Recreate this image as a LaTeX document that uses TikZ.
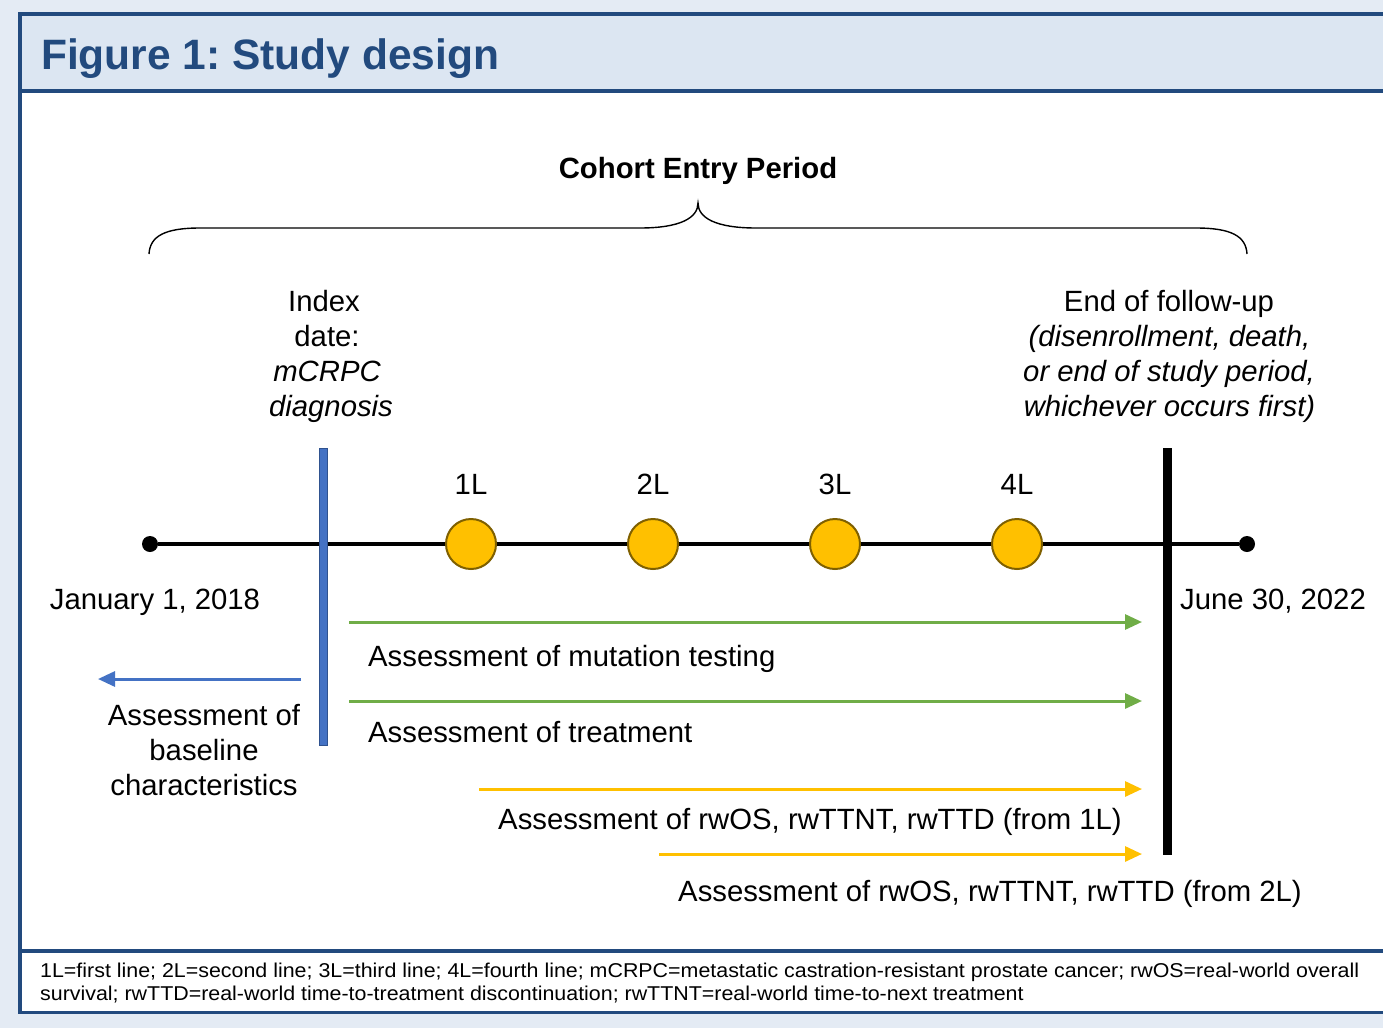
\documentclass[tikz,border=0pt]{standalone}
\usepackage{fontspec}
\setmainfont{Liberation Sans}
\newfontfamily\notefont[FakeStretch=1.07]{Liberation Sans}
\usetikzlibrary{arrows.meta}
\definecolor{pagebg}{HTML}{E4EBF4}
\definecolor{headbg}{HTML}{DCE6F2}
\definecolor{navy}{HTML}{224A7E}
\definecolor{barblue}{HTML}{4472C4}
\definecolor{bardark}{HTML}{2F528F}
\definecolor{gold}{HTML}{FFC000}
\definecolor{golddark}{HTML}{7F6000}
\definecolor{leaf}{HTML}{70AD47}
\tikzset{
  body/.style={font=\fontsize{29.3}{35}\selectfont, inner sep=0pt},
  bodyit/.style={body, font=\fontsize{29.3}{35}\selectfont\itshape},
  lineno/.style={circle, minimum size=50pt, inner sep=0pt, fill=gold, draw=golddark, line width=2pt},
  enddot/.style={circle, minimum size=16pt, inner sep=0pt, fill=black},
  spanarrow/.style={line width=3pt, -{Triangle[length=17pt,width=15pt]}},
  note/.style={font=\notefont\fontsize{20}{23}\selectfont, inner sep=0pt, anchor=base west},
}
\begin{document}
\frenchspacing
\begin{tikzpicture}[x=1pt, y=-1pt]
\useasboundingbox (0,0) rectangle (1383,1028);
% page background and framed panel
\fill[pagebg] (0,0) rectangle (1383,1028);
\fill[white] (20,14) rectangle (1395,1012.5);
\fill[headbg] (20,14) rectangle (1395,91);
\draw[navy, line width=3.8pt] (1395,14) -- (20,14) -- (20,1012.5) -- (1395,1012.5);
\draw[navy, line width=3.8pt] (20,91) -- (1395,91);
\draw[navy, line width=3.8pt] (20,951) -- (1395,951);
\node[anchor=base west, inner sep=0pt, text=navy, font=\fontsize{42.5}{50}\selectfont\bfseries] (title) at (41,69) {Figure 1: Study design};

% cohort entry brace
\node[body, anchor=base, font=\fontsize{29.3}{35}\selectfont\bfseries] (cohort) at (698,178) {Cohort Entry Period};
\coordinate (brL) at (149,254);
\coordinate (brM) at (698,203);
\coordinate (brR) at (1247,254);
\draw[line width=1.4pt] (brL) .. controls (150,236) and (165,228) .. (200,228) -- (640,228)
  .. controls (680,228) and (698,218) .. (brM)
  .. controls (698,218) and (716,228) .. (756,228) -- (1196,228)
  .. controls (1231,228) and (1246,236) .. (brR);

% timeline
\node[enddot] (start) at (150,544) {};
\node[enddot] (stop) at (1247,544) {};
\draw[line width=4pt] (start) -- (stop);
\node[lineno] (l1) at (471,544) {};
\node[lineno] (l2) at (653,544) {};
\node[lineno] (l3) at (835,544) {};
\node[lineno] (l4) at (1017,544) {};
\node[body, anchor=base] (l1lab) at (471,494) {1L};
\node[body, anchor=base] (l2lab) at (653,494) {2L};
\node[body, anchor=base] (l3lab) at (835,494) {3L};
\node[body, anchor=base] (l4lab) at (1017,494) {4L};

% index date and end of follow-up bars
\node[draw=bardark, fill=barblue, line width=1pt, minimum width=8pt, minimum height=297pt, inner sep=0pt] (index) at (323,596.5) {};
\node[fill=black, minimum width=9pt, minimum height=407pt, inner sep=0pt] (endfu) at (1167.5,651.5) {};

\node[body, anchor=base] (ix1) at (324,311) {Index};
\node[body, anchor=base] (ix2) at (327,346) {date:};
\node[bodyit, anchor=base] (ix3) at (327,381) {mCRPC};
\node[bodyit, anchor=base] (ix4) at (331,416) {diagnosis};

\node[body, anchor=base] (ef1) at (1169,311) {End of follow-up};
\node[bodyit, anchor=base] (ef2) at (1169.5,346) {(disenrollment, death,};
\node[bodyit, anchor=base] (ef3) at (1169,381) {or end of study period,};
\node[bodyit, anchor=base] (ef4) at (1169.5,416) {whichever occurs first)};

\node[body, anchor=base] (d0) at (155,609) {January 1, 2018};
\node[body, anchor=base] (d1) at (1273,609) {June 30, 2022};

% assessment windows
\coordinate (mutA) at (349,622);  \coordinate (mutB) at (1142,622);
\coordinate (trtA) at (349,701);  \coordinate (trtB) at (1142,701);
\coordinate (o1A) at (479,789);   \coordinate (o1B) at (1142,789);
\coordinate (o2A) at (659,854);   \coordinate (o2B) at (1142,854);
\coordinate (basA) at (301,679);  \coordinate (basB) at (98,679);
\draw[spanarrow, leaf] (mutA) -- (mutB);
\draw[spanarrow, leaf] (trtA) -- (trtB);
\draw[spanarrow, gold] (o1A) -- (o1B);
\draw[spanarrow, gold] (o2A) -- (o2B);
\draw[spanarrow, barblue] (basA) -- (basB);

\node[body, anchor=base west] (amut) at (368,666) {Assessment of mutation testing};
\node[body, anchor=base west] (atrt) at (368,742) {Assessment of treatment};
\node[body, anchor=base west] (ao1) at (498,829) {Assessment of rwOS, rwTTNT, rwTTD (from 1L)};
\node[body, anchor=base west] (ao2) at (678,901) {Assessment of rwOS, rwTTNT, rwTTD (from 2L)};
\node[body, anchor=base] (ab1) at (204,725) {Assessment of};
\node[body, anchor=base] (ab2) at (204,760) {baseline};
\node[body, anchor=base] (ab3) at (204,795) {characteristics};

% abbreviations
\node[note] (fn1) at (40,977) {1L=first line; 2L=second line; 3L=third line; 4L=fourth line; mCRPC=metastatic castration-resistant prostate cancer; rwOS=real-world overall};
\node[note] (fn2) at (40,1000) {survival; rwTTD=real-world time-to-treatment discontinuation; rwTTNT=real-world time-to-next treatment};
\end{tikzpicture}
\end{document}
